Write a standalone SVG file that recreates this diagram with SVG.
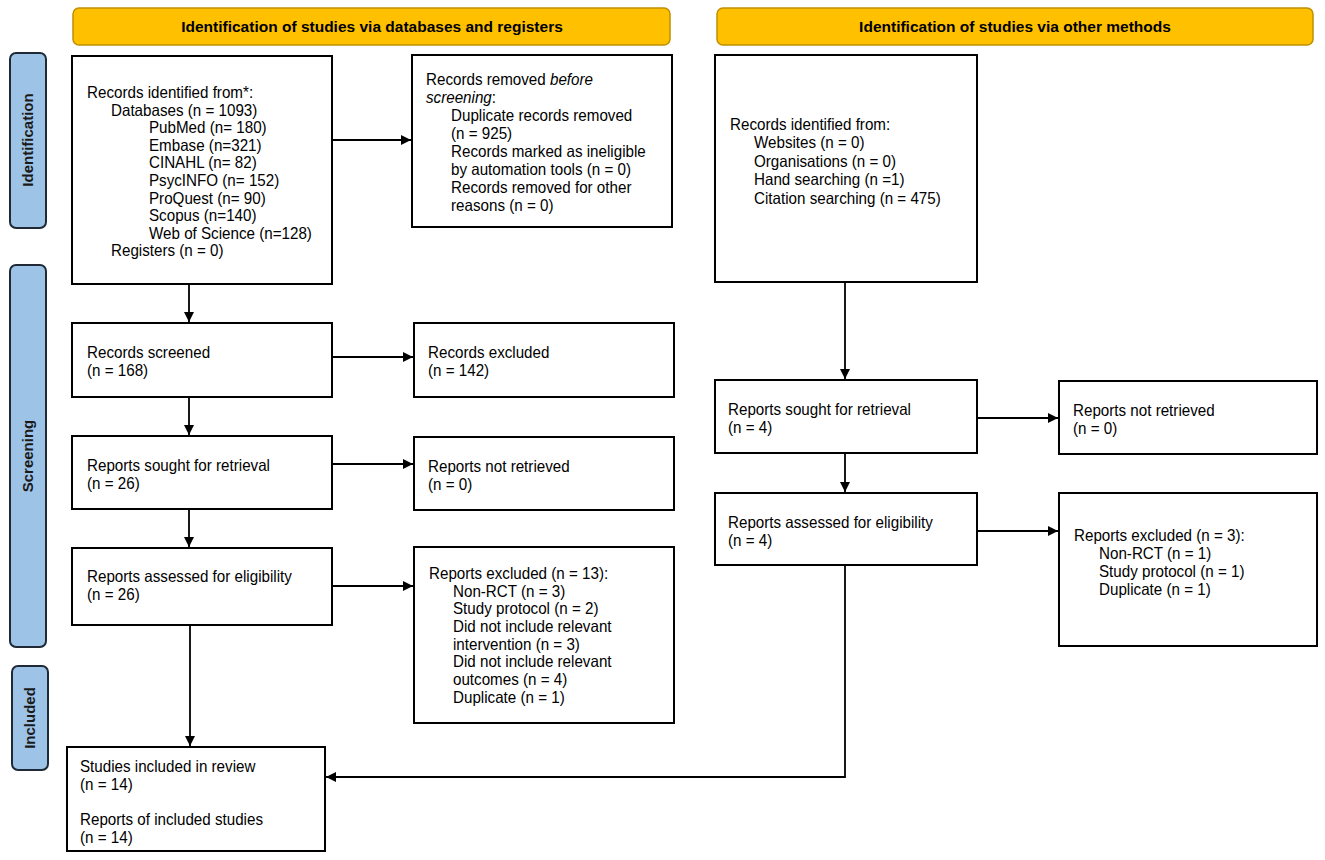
<svg xmlns="http://www.w3.org/2000/svg" width="1325" height="860" viewBox="0 0 1325 860">
<style>
text{font-family:"Liberation Sans",Arial,sans-serif;font-size:16.5px;fill:#000}
.t{transform-box:fill-box;transform-origin:0% 50%;transform:scaleX(0.92)}
.box{fill:#fff;stroke:#000;stroke-width:2}
.hdr{fill:#FFC000;stroke:#BF9000;stroke-width:1.5}
.hdrt{font-weight:bold;font-size:15.5px;text-anchor:middle}
.side{fill:#9DC3E6;stroke:#1F2A36;stroke-width:2}
.sidet{font-weight:bold;font-size:15px;text-anchor:middle;fill:#1a1a1a}
.con{fill:none;stroke:#000;stroke-width:1.8}
</style>
<defs>
<marker id="ah" viewBox="0 0 10 10" refX="10" refY="5" markerWidth="10" markerHeight="10" markerUnits="userSpaceOnUse" orient="auto">
<path d="M0,0 L10,5 L0,10 Z" fill="#000"/>
</marker>
</defs>
<rect width="1325" height="860" fill="#fff"/>

<g id="header-left"><rect class="hdr" x="73" y="8" width="597" height="37" rx="6"/><text class="hdrt" x="372" y="32">Identification of studies via databases and registers</text></g>
<g id="header-right"><rect class="hdr" x="717" y="8" width="596" height="37" rx="6"/><text class="hdrt" x="1015" y="32">Identification of studies via other methods</text></g>

<g id="side-identification"><rect class="side" x="10" y="53" width="36" height="175" rx="6"/><text class="sidet" transform="translate(33,140) rotate(-90)">Identification</text></g>
<g id="side-screening"><rect class="side" x="10" y="265" width="36" height="382" rx="6"/><text class="sidet" transform="translate(33,456) rotate(-90)">Screening</text></g>
<g id="side-included"><rect class="side" x="12" y="666" width="36" height="104" rx="6"/><text class="sidet" transform="translate(35,718) rotate(-90)">Included</text></g>

<g id="records-identified">
<rect class="box" x="72" y="56" width="260" height="228"/>
<text class="t" x="87" y="98">Records identified from*:</text>
<text class="t" x="111" y="115.6">Databases (n = 1093)</text>
<text class="t" x="149" y="133.2">PubMed (n= 180)</text>
<text class="t" x="149" y="150.8">Embase (n=321)</text>
<text class="t" x="149" y="168.4">CINAHL (n= 82)</text>
<text class="t" x="149" y="186">PsycINFO (n= 152)</text>
<text class="t" x="149" y="203.6">ProQuest (n= 90)</text>
<text class="t" x="149" y="221.2">Scopus (n=140)</text>
<text class="t" x="149" y="238.8">Web of Science (n=128)</text>
<text class="t" x="111" y="256.4">Registers (n = 0)</text>
</g>

<g id="records-removed">
<rect class="box" x="412" y="55" width="260" height="172"/>
<text class="t" x="426" y="85">Records removed <tspan font-style="italic">before</tspan></text>
<text class="t" x="426" y="103"><tspan font-style="italic">screening</tspan>:</text>
<text class="t" x="451" y="121">Duplicate records removed</text>
<text class="t" x="451" y="139">(n = 925)</text>
<text class="t" x="451" y="157">Records marked as ineligible</text>
<text class="t" x="451" y="175">by automation tools (n = 0)</text>
<text class="t" x="451" y="193">Records removed for other</text>
<text class="t" x="451" y="211">reasons (n = 0)</text>
</g>

<g id="records-identified-other">
<rect class="box" x="715" y="55" width="262" height="227"/>
<text class="t" x="730" y="130">Records identified from:</text>
<text class="t" x="754" y="148.5">Websites (n = 0)</text>
<text class="t" x="754" y="167">Organisations (n = 0)</text>
<text class="t" x="754" y="185.5">Hand searching (n =1)</text>
<text class="t" x="754" y="204">Citation searching (n = 475)</text>
</g>

<g id="records-screened">
<rect class="box" x="72" y="323" width="260" height="74"/>
<text class="t" x="87" y="358">Records screened</text>
<text class="t" x="87" y="376">(n = 168)</text>
</g>

<g id="records-excluded">
<rect class="box" x="414" y="323" width="260" height="74"/>
<text class="t" x="428" y="358">Records excluded</text>
<text class="t" x="428" y="376">(n = 142)</text>
</g>

<g id="reports-sought">
<rect class="box" x="72" y="436" width="260" height="73"/>
<text class="t" x="87" y="471">Reports sought for retrieval</text>
<text class="t" x="87" y="489">(n = 26)</text>
</g>

<g id="reports-not-retrieved">
<rect class="box" x="414" y="437" width="260" height="73"/>
<text class="t" x="428" y="472">Reports not retrieved</text>
<text class="t" x="428" y="490">(n = 0)</text>
</g>

<g id="reports-assessed">
<rect class="box" x="72" y="548" width="260" height="77"/>
<text class="t" x="87" y="582">Reports assessed for eligibility</text>
<text class="t" x="87" y="600">(n = 26)</text>
</g>

<g id="reports-excluded">
<rect class="box" x="414" y="547" width="260" height="176"/>
<text class="t" x="429" y="579">Reports excluded (n = 13):</text>
<text class="t" x="453" y="596.7">Non-RCT (n = 3)</text>
<text class="t" x="453" y="614.4">Study protocol (n = 2)</text>
<text class="t" x="453" y="632.1">Did not include relevant</text>
<text class="t" x="453" y="649.8">intervention (n = 3)</text>
<text class="t" x="453" y="667.5">Did not include relevant</text>
<text class="t" x="453" y="685.2">outcomes (n = 4)</text>
<text class="t" x="453" y="702.9">Duplicate (n = 1)</text>
</g>

<g id="studies-included">
<rect class="box" x="67" y="747" width="258" height="104"/>
<text class="t" x="80" y="772">Studies included in review</text>
<text class="t" x="80" y="790">(n = 14)</text>
<text class="t" x="80" y="825">Reports of included studies</text>
<text class="t" x="80" y="843">(n = 14)</text>
</g>

<g id="reports-sought-other">
<rect class="box" x="715" y="380" width="262" height="73"/>
<text class="t" x="728" y="415">Reports sought for retrieval</text>
<text class="t" x="728" y="433">(n = 4)</text>
</g>

<g id="reports-not-retrieved-other">
<rect class="box" x="1059" y="381" width="258" height="73"/>
<text class="t" x="1073" y="416">Reports not retrieved</text>
<text class="t" x="1073" y="434">(n = 0)</text>
</g>

<g id="reports-assessed-other">
<rect class="box" x="715" y="493" width="262" height="72"/>
<text class="t" x="728" y="528">Reports assessed for eligibility</text>
<text class="t" x="728" y="546">(n = 4)</text>
</g>

<g id="reports-excluded-other">
<rect class="box" x="1059" y="493" width="258" height="153"/>
<text class="t" x="1074" y="541">Reports excluded (n = 3):</text>
<text class="t" x="1099" y="559">Non-RCT (n = 1)</text>
<text class="t" x="1099" y="577">Study protocol (n = 1)</text>
<text class="t" x="1099" y="595">Duplicate (n = 1)</text>
</g>

<g id="connectors">
<line class="con" x1="332" y1="140" x2="411" y2="140" marker-end="url(#ah)"/>
<line class="con" x1="189" y1="284" x2="189" y2="322" marker-end="url(#ah)"/>
<line class="con" x1="332" y1="357" x2="413" y2="357" marker-end="url(#ah)"/>
<line class="con" x1="189" y1="397" x2="189" y2="435" marker-end="url(#ah)"/>
<line class="con" x1="332" y1="464" x2="413" y2="464" marker-end="url(#ah)"/>
<line class="con" x1="189" y1="509" x2="189" y2="547" marker-end="url(#ah)"/>
<line class="con" x1="332" y1="586" x2="413" y2="586" marker-end="url(#ah)"/>
<line class="con" x1="190" y1="625" x2="190" y2="746" marker-end="url(#ah)" stroke-width="1.4"/>
<line class="con" x1="845" y1="282" x2="845" y2="379" marker-end="url(#ah)" stroke-width="1.4"/>
<line class="con" x1="977" y1="418" x2="1058" y2="418" marker-end="url(#ah)"/>
<line class="con" x1="845" y1="453" x2="845" y2="492" marker-end="url(#ah)"/>
<line class="con" x1="977" y1="531" x2="1058" y2="531" marker-end="url(#ah)"/>
<polyline class="con" points="845,565 845,777 326,777" marker-end="url(#ah)" stroke-width="1.4"/>
</g>
</svg>
